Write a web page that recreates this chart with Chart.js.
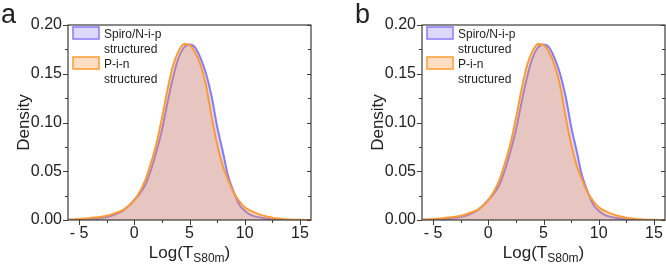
<!DOCTYPE html>
<html lang="en">
<head>
  <meta charset="UTF-8" />
  <title>Density of Log(TS80m)</title>
  <script src="https://cdn.jsdelivr.net/npm/chart.js"></script>
  <style>
    body {
      margin: 0;
      background: #fff;
      width: 666px;
      height: 268px;
      overflow: hidden;
      position: relative;
    }
    .panel {
      position: absolute;
      top: 0;
    }
  </style>
</head>
<body>
  <canvas id="chartA" class="panel" width="313" height="268" style="left:0"></canvas>
  <canvas id="chartB" class="panel" width="313" height="268" style="left:354px"></canvas>

  <script>
    // Log(T_S80m) grid the densities were read on
    const logT = [-6, -5.5, -5, -4.5, -4, -3.5, -3, -2.5, -2, -1.5, -1, -0.5,
      0, 0.5, 1, 1.5, 2, 2.5, 3, 3.5, 4, 4.5, 5, 5.5, 6, 6.5, 7, 7.5, 8, 8.5,
      9, 9.5, 10, 10.5, 11, 11.5, 12, 12.5, 13, 13.5, 14, 14.5, 15, 15.5, 16];

    // Spiro/N-i-p structured
    const spiroDensity = [0.0001, 0.0002, 0.0004, 0.0007, 0.001, 0.0015, 0.0022, 0.003, 0.0045, 0.0068, 0.0098, 0.0145,
      0.0205, 0.027, 0.036, 0.051, 0.070, 0.092, 0.120, 0.146, 0.166, 0.177, 0.180, 0.177, 0.166, 0.150, 0.127, 0.096, 0.071, 0.045,
      0.029, 0.016, 0.0095, 0.0055, 0.0035, 0.0022, 0.0013, 0.0008, 0.0004, 0.0002, 0.0001, 0, 0, 0, 0];

    // P-i-n structured
    const pinDensity = [0.0003, 0.0006, 0.001, 0.0015, 0.002, 0.0027, 0.0034, 0.0044, 0.006, 0.008, 0.0105, 0.0145,
      0.0205, 0.029, 0.041, 0.058, 0.078, 0.104, 0.133, 0.158, 0.173, 0.1805, 0.1795, 0.172, 0.159, 0.138, 0.106, 0.078, 0.056, 0.041,
      0.028, 0.0195, 0.013, 0.0095, 0.007, 0.005, 0.0035, 0.0024, 0.0015, 0.0009, 0.0005, 0.0003, 0.00015, 0.00005, 0];

    const xTicks = [-5, 0, 5, 10, 15];
    const yTicks = [0, 0.05, 0.10, 0.15, 0.20];

    const FONT = "'Liberation Sans', Arial, sans-serif";
    const INK = '#222';
    const purpleLine = 'rgb(134,124,246)';
    const purpleFill = 'rgba(140,130,240,0.3)';
    const orangeLine = 'rgb(255,154,50)';
    const orangeFill = 'rgba(255,150,60,0.3)';

    // frame, tick marks, legend, x title and panel letter
    const decor = {
      id: 'decor',
      afterDraw(chart, args, opts) {
        const { ctx, chartArea: a, scales: { x, y } } = chart;
        ctx.save();

        ctx.strokeStyle = '#3a3a3a';
        ctx.lineWidth = 1.2;
        ctx.strokeRect(a.left, a.top, a.right - a.left, a.bottom - a.top);

        ctx.beginPath();
        ctx.lineWidth = 1;
        xTicks.forEach((v, i) => {
          const px = Math.round(x.getPixelForValue(v)) + 0.5;
          ctx.moveTo(px, a.bottom); ctx.lineTo(px, a.bottom + 5);
          if (i < xTicks.length - 1) {
            const mx = Math.round(x.getPixelForValue((v + xTicks[i + 1]) / 2)) + 0.5;
            ctx.moveTo(mx, a.bottom); ctx.lineTo(mx, a.bottom + 3);
          }
        });
        yTicks.forEach((v, i) => {
          const py = Math.round(y.getPixelForValue(v)) + 0.5;
          ctx.moveTo(a.left, py); ctx.lineTo(a.left - 5, py);
          ctx.moveTo(a.right, py); ctx.lineTo(a.right - 4, py);
          if (i < yTicks.length - 1) {
            const my = Math.round(y.getPixelForValue((v + yTicks[i + 1]) / 2)) + 0.5;
            ctx.moveTo(a.left, my); ctx.lineTo(a.left - 3, my);
            ctx.moveTo(a.right, my); ctx.lineTo(a.right - 3, my);
          }
        });
        ctx.stroke();

        // legend
        const items = [
          { lines: ['Spiro/N-i-p', 'structured'], fill: purpleFill, line: purpleLine },
          { lines: ['P-i-n', 'structured'], fill: orangeFill, line: orangeLine }
        ];
        ctx.font = '12px ' + FONT;
        ctx.textBaseline = 'alphabetic';
        ctx.textAlign = 'left';
        items.forEach((it, i) => {
          const top = a.top + 2 + i * 30;
          ctx.fillStyle = it.fill;
          ctx.fillRect(a.left + 5, top, 26, 12);
          ctx.strokeStyle = it.line;
          ctx.lineWidth = 1.5;
          ctx.strokeRect(a.left + 5, top, 26, 12);
          ctx.fillStyle = INK;
          ctx.fillText(it.lines[0], a.left + 36, top + 11);
          ctx.fillText(it.lines[1], a.left + 36, top + 26);
        });

        // x title with subscript
        const main = '17px ' + FONT, sub = '12px ' + FONT;
        ctx.font = main;
        const w1 = ctx.measureText('Log(T').width;
        const w3 = ctx.measureText(')').width;
        ctx.font = sub;
        const w2 = ctx.measureText('S80m').width;
        let tx = (a.left + a.right) / 2 - (w1 + w2 + w3) / 2;
        const ty = 258;
        ctx.fillStyle = INK;
        ctx.font = main;
        ctx.fillText('Log(T', tx, ty);
        ctx.font = sub;
        ctx.fillText('S80m', tx + w1, ty + 4);
        ctx.font = main;
        ctx.fillText(')', tx + w1 + w2, ty);

        // panel letter
        ctx.font = '27px ' + FONT;
        ctx.fillText(opts.letter, 1, 23);

        ctx.restore();
      }
    };

    function makeChart(id, letter, spiro, pin) {
      return new Chart(document.getElementById(id), {
        type: 'line',
        data: {
          datasets: [
            {
              label: 'Spiro/N-i-p structured',
              data: logT.map((t, i) => ({ x: t, y: spiro[i] })),
              borderColor: purpleLine,
              backgroundColor: purpleFill,
              fill: 'origin',
              order: 1
            },
            {
              label: 'P-i-n structured',
              data: logT.map((t, i) => ({ x: t, y: pin[i] })),
              borderColor: orangeLine,
              backgroundColor: orangeFill,
              fill: 'origin',
              order: 0
            }
          ]
        },
        options: {
          responsive: false,
          animation: false,
          layout: { padding: { top: 25, right: 2, left: 0, bottom: 0 } },
          elements: {
            point: { radius: 0 },
            line: { borderWidth: 2, cubicInterpolationMode: 'monotone' }
          },
          plugins: {
            legend: { display: false },
            tooltip: { enabled: false },
            decor: { letter: letter }
          },
          scales: {
            x: {
              type: 'linear',
              min: -6,
              max: 16,
              grid: { display: false, drawTicks: false },
              border: { display: false },
              afterBuildTicks: s => { s.ticks = xTicks.map(v => ({ value: v })); },
              afterFit: s => { s.height = 48; },
              ticks: {
                font: { size: 16, family: FONT },
                color: INK,
                padding: 4,
                maxRotation: 0,
                autoSkip: false,
                callback: v => v < 0 ? '- ' + Math.abs(v) : String(v)
              }
            },
            y: {
              min: 0,
              max: 0.2,
              grid: { display: false, drawTicks: false },
              border: { display: false },
              afterBuildTicks: s => { s.ticks = yTicks.map(v => ({ value: v })); },
              afterFit: s => { s.width = 68; },
              ticks: {
                font: { size: 16, family: FONT },
                color: INK,
                padding: 6,
                callback: v => Number(v).toFixed(2)
              },
              title: {
                display: true,
                text: 'Density',
                font: { size: 17, family: FONT },
                color: INK,
                padding: { top: 14, bottom: 0 }
              }
            }
          }
        },
        plugins: [decor]
      });
    }

    makeChart('chartA', 'a', spiroDensity, pinDensity);
    makeChart('chartB', 'b', spiroDensity, pinDensity);
  </script>
</body>
</html>
